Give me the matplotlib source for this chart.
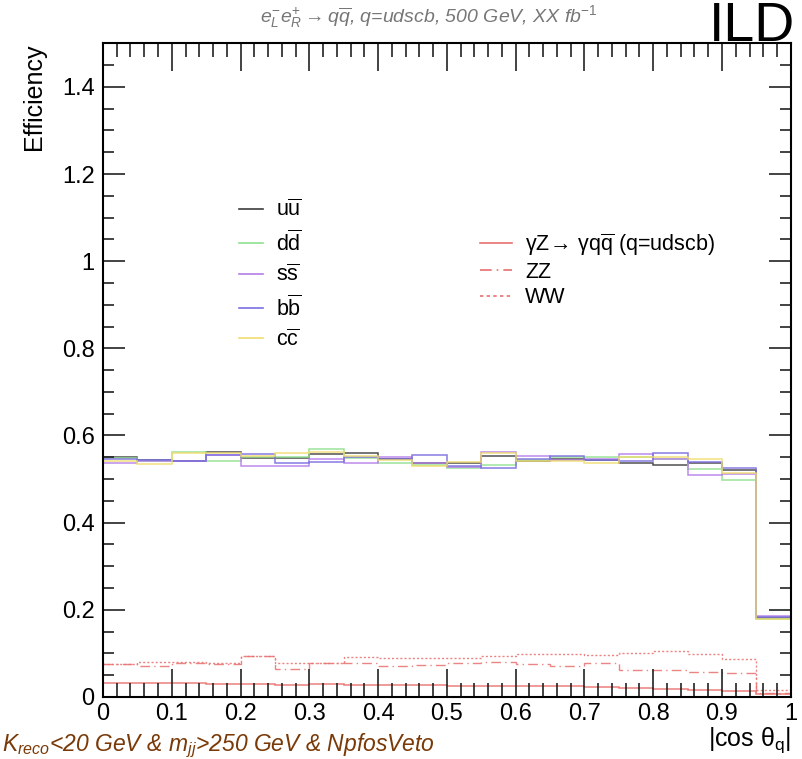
import numpy as np
import matplotlib
matplotlib.use("Agg")
import matplotlib.pyplot as plt
from matplotlib.lines import Line2D
from matplotlib.ticker import MultipleLocator, FuncFormatter

plt.rcParams['font.family'] = ['Liberation Sans', 'DejaVu Sans']
plt.rcParams['mathtext.fontset'] = 'custom'
plt.rcParams['mathtext.rm'] = 'Liberation Sans'
plt.rcParams['mathtext.it'] = 'Liberation Sans:italic'
plt.rcParams['mathtext.bf'] = 'Liberation Sans:bold'

# ---- data ----
bin_edges = np.linspace(0, 1, 21)

eff_uu = [0.551, 0.543, 0.542, 0.561, 0.549, 0.549, 0.557, 0.560, 0.547, 0.537,
          0.537, 0.553, 0.542, 0.545, 0.544, 0.536, 0.532, 0.537, 0.520, 0.182]
eff_dd = [0.548, 0.542, 0.563, 0.542, 0.550, 0.550, 0.568, 0.548, 0.538, 0.532,
          0.525, 0.532, 0.544, 0.550, 0.551, 0.550, 0.547, 0.523, 0.497, 0.180]
eff_ss = [0.536, 0.542, 0.542, 0.556, 0.530, 0.530, 0.545, 0.538, 0.551, 0.538,
          0.527, 0.563, 0.552, 0.543, 0.545, 0.557, 0.546, 0.510, 0.512, 0.185]
eff_bb = [0.545, 0.543, 0.542, 0.556, 0.558, 0.538, 0.540, 0.551, 0.547, 0.556,
          0.531, 0.525, 0.545, 0.553, 0.544, 0.541, 0.559, 0.540, 0.525, 0.183]
eff_cc = [0.542, 0.534, 0.559, 0.559, 0.553, 0.559, 0.561, 0.552, 0.544, 0.529,
          0.539, 0.560, 0.542, 0.542, 0.538, 0.550, 0.550, 0.545, 0.515, 0.178]

eff_gz = [0.033, 0.031, 0.031, 0.030, 0.030, 0.028, 0.029, 0.028, 0.028, 0.027,
          0.025, 0.026, 0.026, 0.025, 0.022, 0.021, 0.019, 0.016, 0.014, 0.006]
eff_zz = [0.075, 0.072, 0.079, 0.075, 0.093, 0.064, 0.079, 0.077, 0.072, 0.074,
          0.077, 0.080, 0.075, 0.072, 0.078, 0.063, 0.063, 0.057, 0.055, 0.010]
eff_ww = [0.075, 0.081, 0.081, 0.077, 0.095, 0.077, 0.079, 0.091, 0.089, 0.089,
          0.089, 0.094, 0.099, 0.099, 0.097, 0.102, 0.106, 0.099, 0.088, 0.016]

quark_labels = [r'u$\overline{\mathrm{u}}$', r'd$\overline{\mathrm{d}}$',
                r's$\overline{\mathrm{s}}$', r'b$\overline{\mathrm{b}}$',
                r'c$\overline{\mathrm{c}}$']
bkg_labels = [r'$\mathrm{\gamma Z\!\rightarrow\,\gamma q\overline{q}}$ (q=udscb)', 'ZZ', 'WW']

quark_colors = ['#3c3c3c', '#8fe08f', '#b47ee8', '#7a6ee0', '#f0dc6e']
red = '#e8706e'

# ---- figure ----
fig = plt.figure(figsize=(8.02, 7.59), dpi=100)
ax = fig.add_axes([0.1284, 0.0817, 0.8576, 0.8613])

quark_data = [eff_uu, eff_dd, eff_ss, eff_bb, eff_cc]
for vals, col in zip(quark_data, quark_colors):
    ax.stairs(vals, bin_edges, baseline=None, color=col, lw=1.1, alpha=0.9)

ax.stairs(eff_gz, bin_edges, baseline=None, color=red, lw=1.1, alpha=0.9)
ax.stairs(eff_zz, bin_edges, baseline=None, color=red, lw=1.0, alpha=0.85,
          linestyle=(0, (7, 3, 1, 3)))
ax.stairs(eff_ww, bin_edges, baseline=None, color=red, lw=1.0, alpha=0.85,
          linestyle=(0, (1.5, 1.5)))

ax.set_xlim(0, 1)
ax.set_ylim(0, 1.5)

def fmt(v, pos):
    s = f'{v:.1f}'
    if s.endswith('.0'):
        s = s[:-2]
    return s

ax.xaxis.set_major_locator(MultipleLocator(0.1))
ax.xaxis.set_minor_locator(MultipleLocator(0.02))
ax.yaxis.set_major_locator(MultipleLocator(0.2))
ax.yaxis.set_minor_locator(MultipleLocator(0.05))
ax.xaxis.set_major_formatter(FuncFormatter(fmt))
ax.yaxis.set_major_formatter(FuncFormatter(fmt))
ax.tick_params(axis='both', which='both', direction='in', top=True, right=True,
               width=1.2, color='#222222', labelsize=17)
ax.tick_params(axis='x', which='major', length=20, pad=4)
ax.tick_params(axis='x', which='minor', length=10)
ax.tick_params(axis='y', which='major', length=16, pad=6)
ax.tick_params(axis='y', which='minor', length=8)
for sp in ax.spines.values():
    sp.set_linewidth(1.5)

ax.set_ylabel('Efficiency', fontsize=18)
ax.yaxis.set_label_coords(-0.083, 1.0)
ax.yaxis.label.set_horizontalalignment('right')
ax.set_xlabel(r'|cos $\mathrm{\theta_{q}}$|', fontsize=18)
ax.xaxis.set_label_coords(1.0, -0.043)
ax.xaxis.label.set_horizontalalignment('right')

# legends
h1 = [Line2D([], [], color=c, lw=1.2) for c in quark_colors]
leg1 = ax.legend(h1, quark_labels, loc='upper left', bbox_to_anchor=(0.17, 0.79),
                 frameon=False, fontsize=15.5, handlelength=1.1, handletextpad=0.6,
                 labelspacing=0.42)
ax.add_artist(leg1)
h2 = [Line2D([], [], color=red, lw=1.2),
      Line2D([], [], color=red, lw=1.2, linestyle=(0, (7, 3, 1, 3))),
      Line2D([], [], color=red, lw=1.2, linestyle=(0, (2, 2)))]
ax.legend(h2, bkg_labels, loc='upper left', bbox_to_anchor=(0.52, 0.742),
          frameon=False, fontsize=15.5, handlelength=1.5, handletextpad=0.6,
          labelspacing=0.2)

# texts
fig.text(0.535, 0.978, r'$e^{-}_{L}e^{+}_{R} \rightarrow q\overline{q}$, q=udscb, 500 GeV, XX fb$^{-1}$',
         ha='center', va='center', fontsize=14, color='#777777', style='italic')
fig.text(0.992, 0.946, 'ILD', ha='right', va='baseline', fontsize=40, color='black')
fig.text(0.003, 0.010, r'K$_{reco}$<20 GeV & m$_{jj}$>250 GeV & NpfosVeto',
         ha='left', va='baseline', fontsize=16.5, color='#7a3a08', style='italic')

fig.savefig('out.png', dpi=100)
